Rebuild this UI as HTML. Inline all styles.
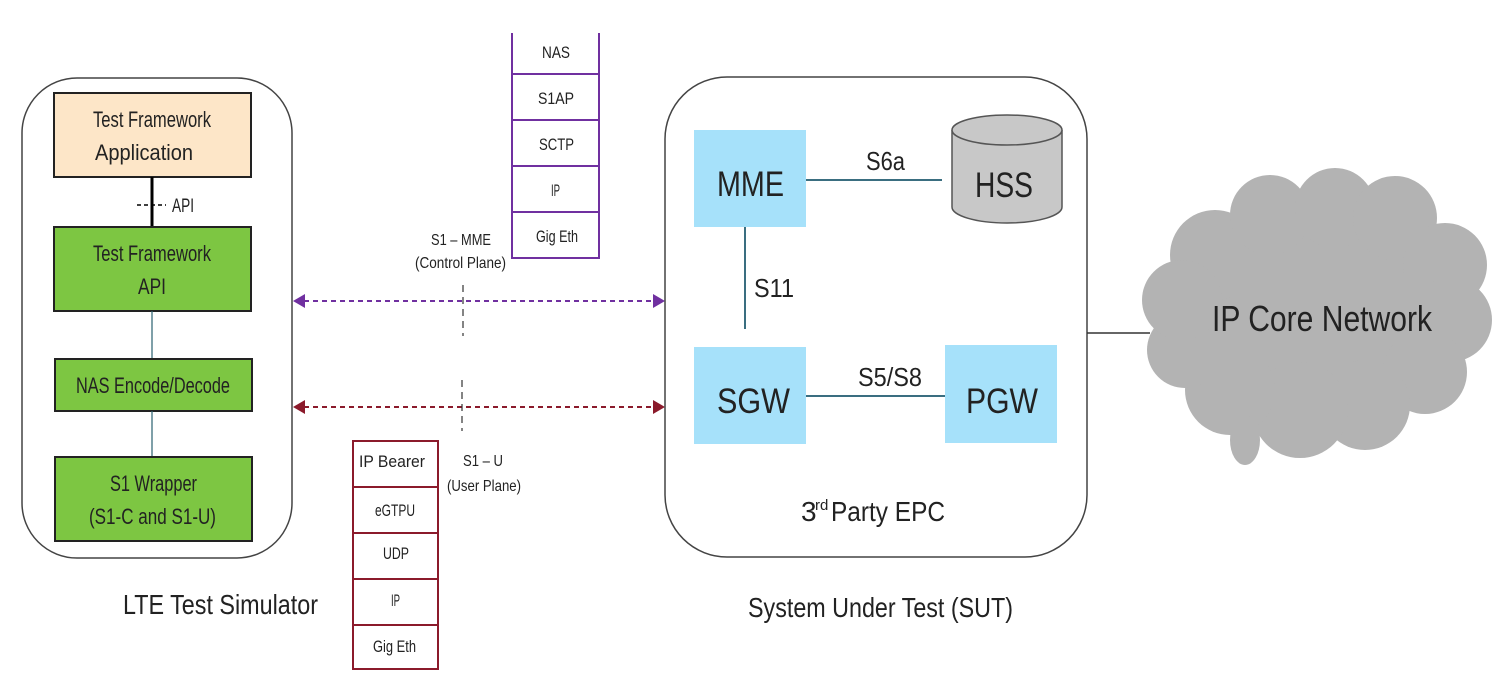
<!DOCTYPE html>
<html><head><meta charset="utf-8"><style>
html,body{margin:0;padding:0;background:#fff;}
svg{display:block;}
text{font-family:"Liberation Sans",sans-serif;fill:#222;}
</style></head><body>
<svg width="1511" height="690" viewBox="0 0 1511 690" xmlns="http://www.w3.org/2000/svg">
<!-- Left container -->
<rect x="22" y="78" width="270" height="480" rx="55" fill="none" stroke="#444" stroke-width="1.5"/>
<rect x="54" y="93" width="197" height="84" fill="#fde6c8" stroke="#222" stroke-width="2"/>
<text x="93" y="127" font-size="22" textLength="118" lengthAdjust="spacingAndGlyphs">Test Framework</text>
<text x="95" y="160" font-size="22" textLength="98" lengthAdjust="spacingAndGlyphs">Application</text>
<line x1="152" y1="177" x2="152" y2="227" stroke="#000" stroke-width="3"/>
<line x1="137" y1="205" x2="166" y2="205" stroke="#000" stroke-width="1.5" stroke-dasharray="4,3"/>
<text x="172" y="212" font-size="19" textLength="22" lengthAdjust="spacingAndGlyphs">API</text>
<rect x="54" y="227" width="197" height="84" fill="#7dc642" stroke="#222" stroke-width="2"/>
<text x="93" y="261" font-size="22" textLength="118" lengthAdjust="spacingAndGlyphs">Test Framework</text>
<text x="138" y="294" font-size="22" textLength="28" lengthAdjust="spacingAndGlyphs">API</text>
<line x1="152" y1="311" x2="152" y2="359" stroke="#2a6070" stroke-width="1.2"/>
<rect x="55" y="359" width="197" height="52" fill="#7dc642" stroke="#222" stroke-width="2"/>
<text x="76" y="393" font-size="22" textLength="154" lengthAdjust="spacingAndGlyphs">NAS Encode/Decode</text>
<line x1="152" y1="411" x2="152" y2="457" stroke="#2a6070" stroke-width="1.2"/>
<rect x="55" y="457" width="197" height="84" fill="#7dc642" stroke="#222" stroke-width="2"/>
<text x="110" y="491" font-size="22" textLength="87" lengthAdjust="spacingAndGlyphs">S1 Wrapper</text>
<text x="89" y="524" font-size="22" textLength="127" lengthAdjust="spacingAndGlyphs">(S1-C and S1-U)</text>
<text x="123" y="614" font-size="28" textLength="195" lengthAdjust="spacingAndGlyphs">LTE Test Simulator</text>

<!-- Purple stack -->
<g stroke="#7030a0" stroke-width="2" fill="#fff">
<path d="M512 33 V258 H599 V33" />
<line x1="512" y1="74" x2="599" y2="74"/>
<line x1="512" y1="120" x2="599" y2="120"/>
<line x1="512" y1="166" x2="599" y2="166"/>
<line x1="512" y1="212" x2="599" y2="212"/>
</g>
<g font-size="17">
<text x="542" y="58" textLength="28" lengthAdjust="spacingAndGlyphs">NAS</text>
<text x="538" y="104" textLength="36" lengthAdjust="spacingAndGlyphs">S1AP</text>
<text x="539" y="150" textLength="35" lengthAdjust="spacingAndGlyphs">SCTP</text>
<text x="551" y="196" textLength="9" lengthAdjust="spacingAndGlyphs">IP</text>
<text x="536" y="242" textLength="42" lengthAdjust="spacingAndGlyphs">Gig Eth</text>
</g>
<text x="431" y="245" font-size="16" textLength="60" lengthAdjust="spacingAndGlyphs">S1 – MME</text>
<text x="415" y="268" font-size="16" textLength="91" lengthAdjust="spacingAndGlyphs">(Control Plane)</text>

<!-- arrows -->
<line x1="304" y1="301" x2="654" y2="301" stroke="#7030a0" stroke-width="2" stroke-dasharray="5,4"/>
<polygon points="293,301 305,294 305,308" fill="#7030a0"/>
<polygon points="665,301 653,294 653,308" fill="#7030a0"/>
<line x1="463" y1="285" x2="463" y2="336" stroke="#333" stroke-width="1.2" stroke-dasharray="7,5"/>
<line x1="304" y1="407" x2="654" y2="407" stroke="#8b1a2b" stroke-width="2" stroke-dasharray="5,4"/>
<polygon points="293,407 305,400 305,414" fill="#8b1a2b"/>
<polygon points="665,407 653,400 653,414" fill="#8b1a2b"/>
<line x1="462" y1="380" x2="462" y2="431" stroke="#333" stroke-width="1.2" stroke-dasharray="7,5"/>

<!-- Red stack -->
<g stroke="#8b1a2b" stroke-width="2" fill="#fff">
<rect x="353" y="441" width="85" height="228"/>
<line x1="353" y1="487" x2="438" y2="487"/>
<line x1="353" y1="533" x2="438" y2="533"/>
<line x1="353" y1="579" x2="438" y2="579"/>
<line x1="353" y1="625" x2="438" y2="625"/>
</g>
<g font-size="17">
<text x="359" y="467" textLength="66" lengthAdjust="spacingAndGlyphs">IP Bearer</text>
<text x="375" y="516" textLength="40" lengthAdjust="spacingAndGlyphs">eGTPU</text>
<text x="383" y="559" textLength="26" lengthAdjust="spacingAndGlyphs">UDP</text>
<text x="391" y="606" textLength="9" lengthAdjust="spacingAndGlyphs">IP</text>
<text x="373" y="652" textLength="43" lengthAdjust="spacingAndGlyphs">Gig Eth</text>
</g>
<text x="463" y="466" font-size="16" textLength="40" lengthAdjust="spacingAndGlyphs">S1 – U</text>
<text x="447" y="491" font-size="16" textLength="74" lengthAdjust="spacingAndGlyphs">(User Plane)</text>

<!-- Right container -->
<rect x="665" y="77" width="422" height="480" rx="62" fill="none" stroke="#444" stroke-width="1.5"/>
<line x1="805" y1="180" x2="942" y2="180" stroke="#3a6e80" stroke-width="2"/>
<line x1="745" y1="220" x2="745" y2="345" stroke="#3a6e80" stroke-width="2"/>
<line x1="805" y1="396" x2="946" y2="396" stroke="#3a6e80" stroke-width="2"/>
<rect x="694" y="130" width="112" height="97" fill="#a6e1fa"/>
<rect x="694" y="329" width="112" height="115" fill="#fff"/>
<rect x="694" y="347" width="112" height="97" fill="#a6e1fa"/>
<rect x="945" y="345" width="112" height="98" fill="#a6e1fa"/>
<!-- HSS cylinder -->
<path d="M952 130 V207 A55 16 0 0 0 1062 207 V130" fill="#c8c8c8" stroke="#555" stroke-width="1.5"/>
<ellipse cx="1007" cy="130" rx="55" ry="15" fill="#c8c8c8" stroke="#555" stroke-width="1.5"/>
<text x="717" y="196" font-size="35" textLength="67" lengthAdjust="spacingAndGlyphs">MME</text>
<text x="975" y="197" font-size="35" textLength="58" lengthAdjust="spacingAndGlyphs">HSS</text>
<text x="717" y="413" font-size="35" textLength="73" lengthAdjust="spacingAndGlyphs">SGW</text>
<text x="966" y="413" font-size="35" textLength="72" lengthAdjust="spacingAndGlyphs">PGW</text>
<text x="866" y="170" font-size="26" textLength="39" lengthAdjust="spacingAndGlyphs">S6a</text>
<text x="754" y="297" font-size="26" textLength="40" lengthAdjust="spacingAndGlyphs">S11</text>
<text x="858" y="386" font-size="26" textLength="64" lengthAdjust="spacingAndGlyphs">S5/S8</text>
<text x="801" y="521" font-size="28">3</text>
<text x="815" y="510" font-size="15">rd</text>
<text x="831" y="521" font-size="28" textLength="114" lengthAdjust="spacingAndGlyphs">Party EPC</text>
<text x="748" y="617" font-size="28" textLength="265" lengthAdjust="spacingAndGlyphs">System Under Test (SUT)</text>

<!-- connection to cloud -->
<line x1="1087" y1="333" x2="1150" y2="333" stroke="#333" stroke-width="1.5"/>
<!-- Cloud -->
<g fill="#b3b3b3">
<ellipse cx="1320" cy="315" rx="140" ry="110"/>
<circle cx="1215" cy="255" r="45"/>
<circle cx="1270" cy="215" r="40"/>
<circle cx="1335" cy="208" r="40"/>
<circle cx="1395" cy="218" r="42"/>
<circle cx="1445" cy="265" r="42"/>
<circle cx="1450" cy="320" r="42"/>
<circle cx="1425" cy="372" r="42"/>
<circle cx="1365" cy="405" r="45"/>
<circle cx="1300" cy="410" r="48"/>
<circle cx="1230" cy="390" r="45"/>
<circle cx="1185" cy="350" r="38"/>
<circle cx="1182" cy="300" r="40"/>
<ellipse cx="1245" cy="440" rx="15" ry="25"/>
</g>
<text x="1212" y="331" font-size="36" textLength="220" lengthAdjust="spacingAndGlyphs">IP Core Network</text>
</svg>
</body></html>
